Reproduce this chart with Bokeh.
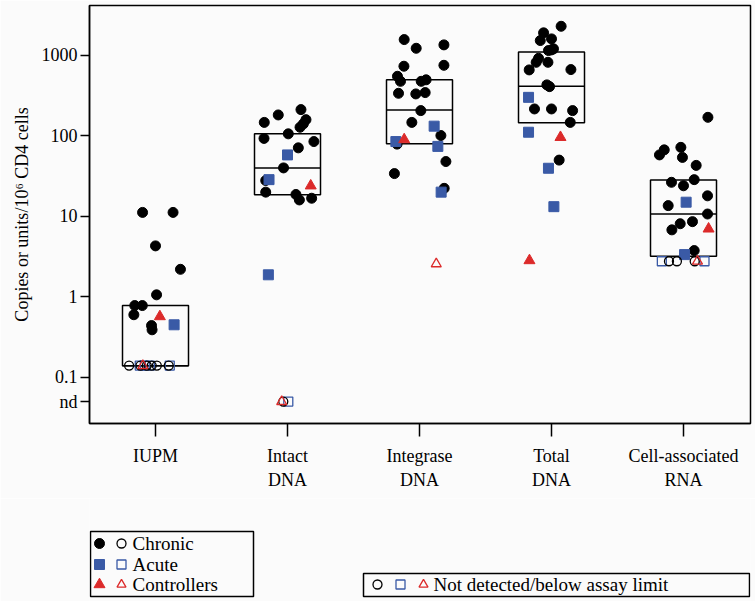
from bokeh.plotting import figure
from bokeh.models import FixedTicker, Range1d
from bokeh.layouts import column
from bokeh.core.properties import value
from bokeh.embed import file_html
from bokeh.resources import INLINE

# ---------------- data ----------------
categories = ["IUPM", "Intact\nDNA", "Integrase\nDNA", "Total\nDNA", "Cell-associated\nRNA"]
cat_pos = [1, 2, 3, 4, 5]

box_q1 = [0.139, 18.6, 80, 146, 3.2]
box_median = [0.139, 40, 209, 412, 10.7]
box_q3 = [0.78, 106, 497, 1100, 28.3]

# chronic (filled circles)
chronic_cat = [1]*10 + [2]*16 + [3]*19 + [4]*19 + [5]*16
chronic_jitter = [
    -0.098, 0.133, 0.0, 0.189, 0.008, -0.157, -0.10, -0.164, -0.03, -0.026,
    0.102, -0.07, -0.176, 0.14, 0.12, 0.095, 0.006, -0.178, 0.20, 0.082, -0.03, -0.165, -0.165, 0.064, 0.09, 0.183,
    -0.116, -0.025, 0.185, -0.118, 0.185, -0.167, -0.144, 0.013, 0.05, -0.159, -0.028, 0.043, 0.01, -0.058, 0.162, -0.17, 0.2, -0.19, 0.187,
    0.073, -0.06, 0.0, -0.085, 0.0, -0.023, 0.015, -0.098, -0.116, -0.027, -0.169, 0.147, -0.035, -0.015, -0.129, 0.0, 0.16, 0.142, 0.058,
    0.185, -0.146, -0.182, -0.02, -0.008, 0.096, -0.091, 0.0, 0.081, 0.182, -0.116, 0.182, 0.068, -0.025, -0.088, 0.081,
]
chronic_val = [
    11.2, 11.2, 4.3, 2.2, 1.06, 0.78, 0.78, 0.60, 0.44, 0.39,
    212, 182, 147, 159, 141, 128, 106, 93, 85, 71, 40, 27.9, 20, 18.7, 16, 16.8,
    1571, 1225, 1350, 733, 753, 550, 476, 476, 497, 338, 332, 345, 206, 147, 101, 79, 48, 34, 22.3,
    2298, 1905, 1603, 1528, 1170, 1148, 1205, 920, 820, 820, 660, 666, 430, 409, 216, 216, 206, 147, 50,
    170, 67, 58, 72, 54, 43, 26.5, 24, 28.6, 18, 13.6, 10.7, 8.6, 8.1, 6.8, 3.76,
]

# acute (filled squares)
acute_cat = [1, 2, 2, 2, 3, 3, 3, 3, 4, 4, 4, 4, 5, 5]
acute_jitter = [0.141, 0.0, -0.14, -0.145, -0.179, 0.111, 0.139, 0.164, -0.174, -0.174, -0.023, 0.018, 0.02, 0.008]
acute_val = [0.45, 58, 28.6, 1.88, 85, 132, 74, 20, 301, 111, 39.6, 13.2, 15, 3.35]

# controllers (filled triangles)
ctrl_cat = [1, 2, 3, 4, 4, 5]
ctrl_jitter = [0.033, 0.176, -0.116, 0.068, -0.167, 0.19]
ctrl_val = [0.57, 24, 90, 96, 2.83, 7.0]

# not detected / below assay limit (open markers)
chronic_nd_cat = [1, 1, 1, 1, 1, 1, 2, 5, 5, 5]
chronic_nd_jitter = [-0.20, -0.114, -0.066, -0.029, 0.01, 0.10, -0.032, -0.11, -0.05, 0.085]
chronic_nd_val = [0.14, 0.14, 0.14, 0.14, 0.14, 0.14, 0.05, 2.77, 2.77, 2.77]

acute_nd_cat = [1, 1, 1, 1, 2, 5, 5]
acute_nd_jitter = [-0.119, -0.081, -0.043, 0.108, 0.006, -0.164, 0.159]
acute_nd_val = [0.14, 0.14, 0.14, 0.14, 0.05, 2.77, 2.77]

ctrl_nd_cat = [1, 2, 3, 5]
ctrl_nd_jitter = [-0.096, -0.044, 0.127, 0.106]
ctrl_nd_val = [0.14, 0.05, 2.57, 2.77]

y_ticks = [0.05, 0.1, 1, 10, 100, 1000]
y_tick_labels = ["nd", "0.1", "1", "10", "100", "1000"]

legend_groups = ["Chronic", "Acute", "Controllers"]
legend_nd_text = "Not detected/below assay limit"

# ---------------- styling ----------------
FONT = "Liberation Serif"
BLUE = "#3a5aa6"
RED = "#dc2a2a"
BG = "#fbfbfb"
W = 755
BL, BR = 89, 5          # left / right borders (frame 89..750)
FRAME_H = 418
TOP = 5
BOTTOM = 75
DECADE = 80.5           # pixels per decade
LOG_BOTTOM = -1.573

def xs(cats, jit):
    return [c + j for c, j in zip(cats, jit)]

frame_w = W - BL - BR
p = figure(width=W, height=TOP + FRAME_H + BOTTOM, output_backend="svg", toolbar_location=None,
           y_axis_type="log",
           x_range=Range1d(0.5, 0.5 + frame_w / 132),
           y_range=Range1d(10 ** LOG_BOTTOM, 10 ** (LOG_BOTTOM + FRAME_H / DECADE)),
           min_border_left=BL, min_border_right=BR, min_border_top=TOP, min_border_bottom=BOTTOM)
p.background_fill_color = BG
p.border_fill_color = BG
p.outline_line_color = "black"
p.outline_line_width = 1.5
p.xgrid.visible = False
p.ygrid.visible = False

p.xaxis.ticker = FixedTicker(ticks=cat_pos)
p.xaxis.major_label_overrides = {c: l for c, l in zip(cat_pos, categories)}
p.yaxis.ticker = FixedTicker(ticks=y_ticks)
p.yaxis.major_label_overrides = {t: l for t, l in zip(y_ticks, y_tick_labels)}

for ax in (p.xaxis, p.yaxis):
    ax.axis_line_color = "black"
    ax.axis_line_width = 1.5
    ax.major_tick_line_color = "black"
    ax.major_tick_line_width = 1.5
    ax.major_tick_in = 0
    ax.minor_tick_line_color = None
    ax.major_label_text_font = FONT
    ax.major_label_text_font_size = "18px"
    ax.major_label_text_color = "black"

p.xaxis.major_tick_out = 13
p.xaxis.major_label_standoff = 9
p.yaxis.major_tick_out = 9
p.yaxis.major_label_standoff = 3
p.yaxis.axis_label = "Copies or units/10\u2076 CD4 cells"
p.yaxis.axis_label_text_font = FONT
p.yaxis.axis_label_text_font_size = "18px"
p.yaxis.axis_label_text_font_style = "normal"
p.yaxis.axis_label_text_color = "black"
p.yaxis.axis_label_standoff = 7

# boxes
p.quad(left=[c - 0.25 for c in cat_pos], right=[c + 0.25 for c in cat_pos],
       bottom=box_q1, top=box_q3, fill_color=None, line_color="black", line_width=1.5)
p.segment(x0=[c - 0.25 for c in cat_pos], x1=[c + 0.25 for c in cat_pos],
          y0=box_median, y1=box_median, line_color="black", line_width=1.5)

# points
p.scatter(xs(chronic_cat, chronic_jitter), chronic_val, marker="circle", size=10,
          fill_color="black", line_color="black")
p.scatter(xs(acute_cat, acute_jitter), acute_val, marker="square", size=10,
          fill_color=BLUE, line_color=BLUE)
p.scatter(xs(ctrl_cat, ctrl_jitter), ctrl_val, marker="triangle", size=11,
          fill_color=RED, line_color=RED)
p.scatter(xs(acute_nd_cat, acute_nd_jitter), acute_nd_val, marker="square", size=9,
          fill_color=None, line_color=BLUE, line_width=1.3)
p.scatter(xs(chronic_nd_cat, chronic_nd_jitter), chronic_nd_val, marker="circle", size=9,
          fill_color=None, line_color="black", line_width=1.3)
p.scatter(xs(ctrl_nd_cat, ctrl_nd_jitter), ctrl_nd_val, marker="triangle", size=10,
          fill_color=None, line_color=RED, line_width=1.3)

# ---------------- legend area (coordinates = page pixels) ----------------
LH = 601 - (TOP + FRAME_H + BOTTOM)
Y0 = TOP + FRAME_H + BOTTOM
leg = figure(width=W, height=LH, output_backend="svg", toolbar_location=None,
             x_range=Range1d(BL, W - BR), y_range=Range1d(Y0 + LH, Y0),
             min_border_left=BL, min_border_right=BR, min_border_top=0, min_border_bottom=0)
leg.axis.visible = False
leg.grid.visible = False
leg.outline_line_color = None
leg.background_fill_color = BG
leg.border_fill_color = BG

# legend 1
row_y = [543, 564, 584]
leg.quad(left=[90], right=[253], top=[531], bottom=[596], fill_color=None,
         line_color="black", line_width=1.5)
filled_markers = ["circle", "square", "triangle"]
colors = ["black", BLUE, RED]
for m, col, yy in zip(filled_markers, colors, row_y):
    leg.scatter([99], [yy], marker=m, size=10 if m != "triangle" else 11,
                fill_color=col, line_color=col)
    leg.scatter([121], [yy], marker=m, size=9, fill_color=None, line_color=col, line_width=1.3)
leg.text([132] * 3, row_y, text=legend_groups, text_font=value(FONT),
         text_font_size="19px", text_baseline="middle", text_color="black")

# legend 2
leg.quad(left=[363], right=[749], top=[573], bottom=[596], fill_color=None,
         line_color="black", line_width=1.5)
for m, col, xx in zip(filled_markers, colors, [377, 400, 423]):
    leg.scatter([xx], [584], marker=m, size=9, fill_color=None, line_color=col, line_width=1.3)
leg.text([433], [584], text=[legend_nd_text], text_font=value(FONT),
         text_font_size="19px", text_baseline="middle", text_color="black")

layout = column(p, leg, spacing=0)
open("out.html", "w").write(file_html(layout, INLINE))
